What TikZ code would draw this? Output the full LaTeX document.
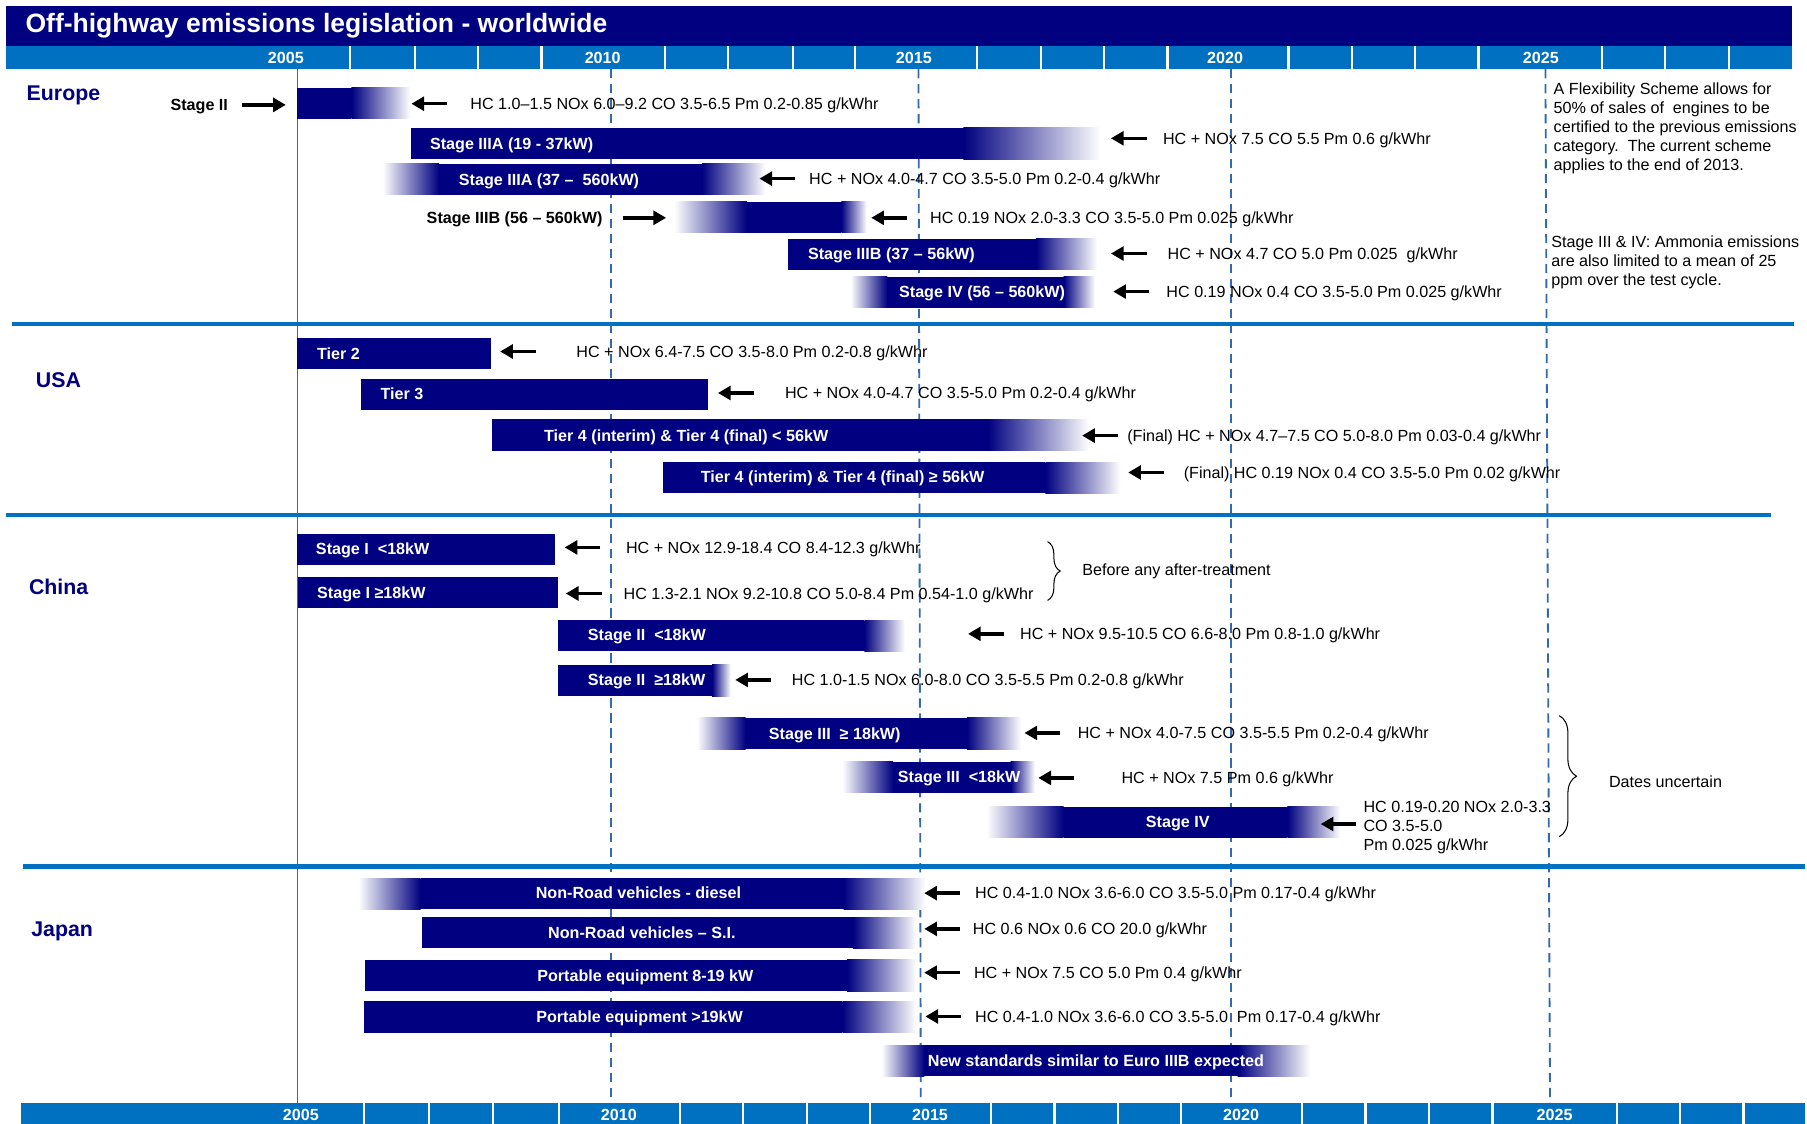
\documentclass[tikz,border=0pt]{standalone}
\usepackage{fontspec}
\setmainfont{Liberation Sans}
\usetikzlibrary{arrows.meta,decorations.pathreplacing}

\definecolor{barnavy}{RGB}{0,0,128}
\definecolor{yrblue}{RGB}{0,112,192}
\definecolor{lineblue}{RGB}{50,105,175}

% bar: fade start, solid start, solid end, fade end, top
\newcommand{\embar}[5]{%
  \ifdim #1pt<#2pt \shade[left color=white,right color=barnavy] (#1,#5) rectangle (#2,#5+27);\fi
  \fill[barnavy] (#2,#5) rectangle (#3,#5+27);
  \ifdim #3pt<#4pt \shade[left color=barnavy,right color=white] (#3,#5) rectangle (#4,#5+27);\fi}

\begin{document}
\begin{tikzpicture}[x=1pt,y=-1pt,
  lim/.style={anchor=west,inner sep=0pt,text height=10pt,text depth=0pt,font=\fontsize{14}{16.5}\selectfont},
  lab/.style={inner sep=0pt,text height=10pt,text depth=0pt,font=\bfseries\fontsize{14}{16.5}\selectfont},
  barlab/.style={lab,text=white},
  note/.style={anchor=north west,inner sep=0pt,align=left,font=\fontsize{14}{16.5}\selectfont},
  country/.style={anchor=west,inner sep=0pt,text height=13pt,text depth=0pt,text=barnavy,font=\bfseries\fontsize{18.5}{22}\selectfont},
  yr/.style={text=white,inner sep=0pt,text height=10pt,text depth=0pt,font=\bfseries\fontsize{14}{16}\selectfont},
  arr/.style={-{Triangle[length=11pt,width=12pt]},line width=3pt},
  yrline/.style={lineblue,line width=1.6pt,dash pattern=on 8pt off 5pt},
  secline/.style={yrblue,line width=4pt},
  brc/.style={decorate,decoration={brace,amplitude=#1},line width=0.9pt}]
\useasboundingbox (0,0) rectangle (1568,975);
\fill[white] (0,0) rectangle (1568,975);

% title and year scales
\fill[barnavy] (5,5) rectangle (1555,40);
\node[anchor=west,inner sep=0pt,text=white,font=\bfseries\fontsize{23}{27}\selectfont] (title) at (22,22) {Off-highway emissions legislation - worldwide};
\fill[yrblue] (5,40) rectangle (1555,60);
\foreach \x in {304,360,415,470,577,632,688,742,848,903,958,1013,1118,1173,1228,1283,1390,1445,1500}
  \draw[white,line width=2pt] (\x,40) -- (\x,60);
\foreach \y/\x in {2005/248,2010/523,2015/793,2020/1063,2025/1337}
  \node[yr] (top\y) at (\x,50) {\y};
\fill[yrblue] (18,957) rectangle (1566,975);
\foreach \x in {316,372,428,485,590,645,700,755,860,915,970,1025,1130,1185,1240,1295,1403,1458,1513}
  \draw[white,line width=2pt] (\x,957) -- (\x,975);
\foreach \y/\x in {2005/261,2010/537,2015/807,2020/1077,2025/1349}
  \node[yr] (bot\y) at (\x,967) {\y};

% year lines
\draw[lineblue,line width=1.3pt] (258,60) -- (258,957);
\draw[yrline] (530,60) -- (530,957);
\draw[yrline] (797,60) -- (799,957);
\draw[yrline] (1068,60) -- (1068,957);
\draw[yrline] (1341,60) -- (1345,957);

% sections
\draw[secline] (10,281) -- (1557,281);
\draw[secline] (5,447) -- (1537,447);
\draw[secline] (20,752) -- (1566,752);
\node[country] (europe) at (23,81) {Europe};
\node[country] (usa) at (31,330) {USA};
\node[country] (china) at (25,509) {China};
\node[country] (japan) at (27,806) {Japan};

% Europe
\embar{258}{258}{305}{356}{76}
\embar{357}{357}{836}{955}{111}
\embar{332}{381}{609}{664}{142}
\embar{585}{648}{730}{752}{175}
\embar{684}{684}{899}{952}{207}
\embar{738}{770}{923}{950}{240}
\node[lab,anchor=east] (eu1) at (198,91) {Stage II};
\node[barlab,anchor=west] (eu2) at (373,125) {Stage IIIA (19 - 37kW)};
\node[barlab,anchor=west] (eu3) at (398,156) {Stage IIIA (37 –\ \ 560kW)};
\node[lab,anchor=east] (eu4) at (523,189) {Stage IIIB (56 – 560kW)};
\node[barlab,anchor=west] (eu5) at (701,220) {Stage IIIB (37 – 56kW)};
\node[barlab,anchor=west] (eu6) at (780,253) {Stage IV (56 – 560kW)};
\node[lim] (eu1l) at (408,90) {HC 1.0–1.5 NOx 6.0–9.2 CO 3.5-6.5 Pm 0.2-0.85 g/kWhr};
\node[lim] (eu2l) at (1009,120) {HC + NOx 7.5 CO 5.5 Pm 0.6 g/kWhr};
\node[lim] (eu3l) at (702,155) {HC + NOx 4.0-4.7 CO 3.5-5.0 Pm 0.2-0.4 g/kWhr};
\node[lim] (eu4l) at (807,189) {HC 0.19 NOx 2.0-3.3 CO 3.5-5.0 Pm 0.025 g/kWhr};
\node[lim] (eu5l) at (1013,220) {HC + NOx 4.7 CO 5.0 Pm 0.025\ \ g/kWhr};
\node[lim] (eu6l) at (1012,253) {HC 0.19 NOx 0.4 CO 3.5-5.0 Pm 0.025 g/kWhr};
\draw[arr] ([xshift=12pt]eu1.east) -- ++(38,0);
\draw[arr] ([xshift=18pt]eu4.east) -- ++(37,0);
\draw[arr] ([xshift=-20pt]eu1l.west) -- ++(-31,0);
\draw[arr] ([xshift=-14pt]eu2l.west) -- ++(-31,0);
\draw[arr] ([xshift=-12pt]eu3l.west) -- ++(-31,0);
\draw[arr] ([xshift=-20pt]eu4l.west) -- ++(-31,0);
\draw[arr] ([xshift=-18pt]eu5l.west) -- ++(-31,0);
\draw[arr] ([xshift=-15pt]eu6l.west) -- ++(-31,0);
\node[note] (eunote1) at (1348,72) {A Flexibility Scheme allows for\\50\% of sales of\ \ engines to be\\certified to the previous emissions\\category.\ \ The current scheme\\applies to the end of 2013.};
\node[note] (eunote2) at (1346,204) {Stage III \& IV: Ammonia emissions\\are also limited to a mean of 25\\ppm over the test cycle.};

% USA
\embar{258}{258}{426}{426}{293}
\embar{313}{313}{614}{614}{329}
\embar{427}{427}{857}{945}{364}
\embar{575}{575}{907}{972}{401}
\node[barlab,anchor=west] (us1) at (275,307) {Tier 2};
\node[barlab,anchor=west] (us2) at (330,342) {Tier 3};
\node[barlab,anchor=west] (us3) at (472,378) {Tier 4 (interim) \& Tier 4 (final) < 56kW};
\node[barlab,anchor=west] (us4) at (608,414) {Tier 4 (interim) \& Tier 4 (final) ≥ 56kW};
\node[lim] (us1l) at (500,305) {HC + NOx 6.4-7.5 CO 3.5-8.0 Pm 0.2-0.8 g/kWhr};
\node[lim] (us2l) at (681,341) {HC + NOx 4.0-4.7 CO 3.5-5.0 Pm 0.2-0.4 g/kWhr};
\node[lim] (us3l) at (978,378) {(Final) HC + NOx 4.7–7.5 CO 5.0-8.0 Pm 0.03-0.4 g/kWhr};
\node[lim] (us4l) at (1027,410) {(Final) HC 0.19 NOx 0.4 CO 3.5-5.0 Pm 0.02 g/kWhr};
\draw[arr] ([xshift=-35pt]us1l.west) -- ++(-31,0);
\draw[arr] ([xshift=-27pt]us2l.west) -- ++(-31,0);
\draw[arr] ([xshift=-8pt]us3l.west) -- ++(-31,0);
\draw[arr] ([xshift=-17pt]us4l.west) -- ++(-31,0);

% China
\embar{258}{258}{482}{482}{463}
\embar{259}{259}{484}{484}{501}
\embar{484}{484}{750}{785}{538}
\embar{484}{484}{618}{634}{577}
\embar{605}{647}{839}{886}{623}
\embar{731}{775}{877}{898}{661}
\embar{856}{923}{1117}{1163}{700}
\node[barlab,anchor=west] (cn1) at (274,476) {Stage I\ \ <18kW};
\node[barlab,anchor=west] (cn2) at (275,514) {Stage I ≥18kW};
\node[barlab,anchor=west] (cn3) at (510,551) {Stage II\ \ <18kW};
\node[barlab,anchor=west] (cn4) at (510,590) {Stage II\ \ ≥18kW};
\node[barlab,anchor=west] (cn5) at (667,637) {Stage III\ \ ≥ 18kW)};
\node[barlab,anchor=west] (cn6) at (779,674) {Stage III\ \ <18kW};
\node[barlab] (cn7) at (1022,713) {Stage IV};
\node[lim] (cn1l) at (543,475) {HC + NOx 12.9-18.4 CO 8.4-12.3 g/kWhr};
\node[lim] (cn2l) at (541,515) {HC 1.3-2.1 NOx 9.2-10.8 CO 5.0-8.4 Pm 0.54-1.0 g/kWhr};
\node[lim] (cn3l) at (885,550) {HC + NOx 9.5-10.5 CO 6.6-8.0 Pm 0.8-1.0 g/kWhr};
\node[lim] (cn4l) at (687,590) {HC 1.0-1.5 NOx 6.0-8.0 CO 3.5-5.5 Pm 0.2-0.8 g/kWhr};
\node[lim] (cn5l) at (935,636) {HC + NOx 4.0-7.5 CO 3.5-5.5 Pm 0.2-0.4 g/kWhr};
\node[lim] (cn6l) at (973,675) {HC + NOx 7.5 Pm 0.6 g/kWhr};
\node[note] (cn7l) at (1183,695) {HC 0.19-0.20 NOx 2.0-3.3\\CO 3.5-5.0\\Pm 0.025 g/kWhr};
\draw[arr] ([xshift=-22pt]cn1l.west) -- ++(-31,0);
\draw[arr] ([xshift=-19pt]cn2l.west) -- ++(-31,0);
\draw[arr] ([xshift=-14pt]cn3l.west) -- ++(-31,0);
\draw[arr] ([xshift=-18pt]cn4l.west) -- ++(-31,0);
\draw[arr] ([xshift=-15pt]cn5l.west) -- ++(-31,0);
\draw[arr] ([xshift=-41pt]cn6l.west) -- ++(-31,0);
\draw[arr] ([xshift=-6pt,yshift=3pt]cn7l.west) -- ++(-31,0);
\coordinate (cnb1a) at (909,470);
\coordinate (cnb1b) at (909,521);
\draw[brc=11pt] (cnb1a) -- (cnb1b);
\node[lim] (cnb1t) at (939,494) {Before any after-treatment};
\coordinate (cnb2a) at (1353,621);
\coordinate (cnb2b) at (1353,726);
\draw[brc=15pt] (cnb2a) -- (cnb2b);
\node[lim] (cnb2t) at (1396,678) {Dates uncertain};

% Japan
\embar{311}{365}{732}{803}{762}
\embar{366}{366}{740}{795}{796}
\embar{317}{317}{735}{795}{833}
\embar{316}{316}{731}{795}{869}
\embar{765}{802}{1074}{1137}{907}
\node[barlab] (jp1) at (554,775) {Non-Road vehicles - diesel};
\node[barlab] (jp2) at (557,809) {Non-Road vehicles – S.I.};
\node[barlab] (jp3) at (560,847) {Portable equipment 8-19 kW};
\node[barlab] (jp4) at (555,882) {Portable equipment >19kW};
\node[barlab] (jp5) at (951,920) {New standards similar to Euro IIIB expected};
\node[lim] (jp1l) at (846,775) {HC 0.4-1.0 NOx 3.6-6.0 CO 3.5-5.0 Pm 0.17-0.4 g/kWhr};
\node[lim] (jp2l) at (844,806) {HC 0.6 NOx 0.6 CO 20.0 g/kWhr};
\node[lim] (jp3l) at (845,844) {HC + NOx 7.5 CO 5.0 Pm 0.4 g/kWhr};
\node[lim] (jp4l) at (846,882) {HC 0.4-1.0 NOx 3.6-6.0 CO 3.5-5.0\ \ Pm 0.17-0.4 g/kWhr};
\draw[arr] ([xshift=-13pt]jp1l.west) -- ++(-31,0);
\draw[arr] ([xshift=-11pt]jp2l.west) -- ++(-31,0);
\draw[arr] ([xshift=-12pt]jp3l.west) -- ++(-31,0);
\draw[arr] ([xshift=-12pt]jp4l.west) -- ++(-31,0);
\end{tikzpicture}
\end{document}
